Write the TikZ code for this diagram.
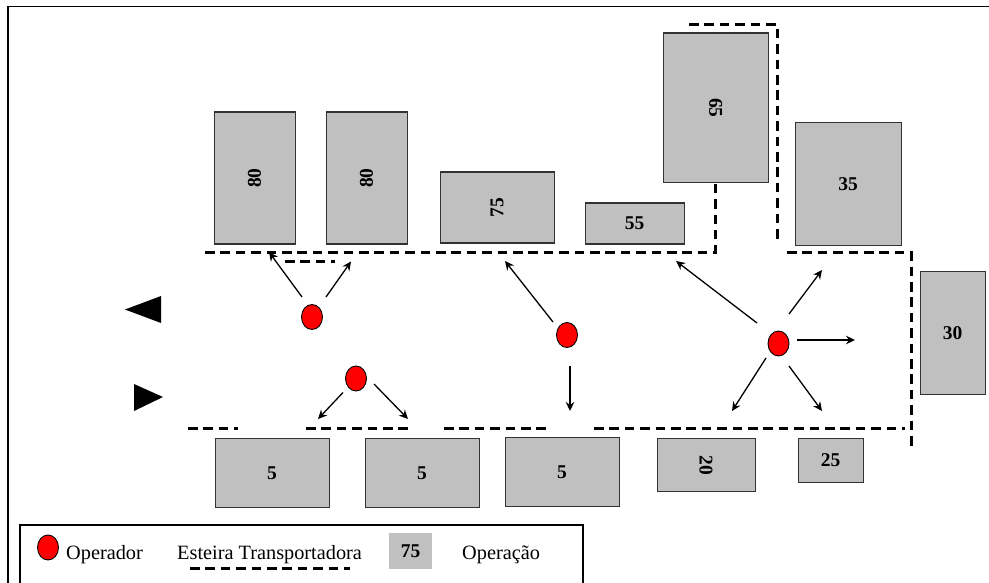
\documentclass[tikz,border=0pt]{standalone}
\usepackage{fontspec}
\setmainfont{Liberation Serif}
\usetikzlibrary{arrows.meta,shapes.geometric}
\definecolor{opgrey}{HTML}{C0C0C0}
\tikzset{
 x=1pt,y=-1pt,
 opbox/.style={draw=black!80,fill=opgrey,line width=1.2pt,font=\bfseries\fontsize{19.5}{22}\selectfont,inner sep=0pt,anchor=north west},
 belt/.style={line width=3pt,dash pattern=on 9.5pt off 5.9pt},
 oper/.style={draw=black,fill=red,ellipse,line width=.9pt,minimum width=21pt,minimum height=25pt,inner sep=0pt},
 flow/.style={-{Stealth[length=9pt,width=8.5pt]},line width=1.3pt},
 legtxt/.style={font=\fontsize{20.3}{22}\selectfont,inner sep=0pt},
 frameline/.style={line width=1.3pt},
}
\newcommand{\opb}[6]{\node[opbox,minimum width=#4pt,minimum height=#5pt] (#1) at (#2,#3) {#6};}
\begin{document}
\begin{tikzpicture}
\useasboundingbox (0,0) rectangle (989,583);
\coordinate (fa) at (8,583); \coordinate (fb) at (8,6.5); \coordinate (fc) at (989,6.5);
\draw[frameline] (fa) -- (fb) -- (fc);
% boxes
\opb{a1}{213.5}{111.5}{81}{132}{\rotatebox{90}{80}}
\opb{a2}{325.5}{111.5}{81}{132}{\rotatebox{90}{80}}
\opb{a3}{439.5}{171.5}{114}{71}{\rotatebox{90}{75}}
\opb{a4}{584.5}{202.5}{99}{41}{55}
\opb{a5}{662.5}{32.5}{105.5}{149.5}{\rotatebox{-90}{65}}
\opb{a6}{794.5}{122}{106}{123}{35}
\opb{a7}{919.5}{271}{65}{123}{30}
\opb{b1}{214.5}{438}{114}{69}{5}
\opb{b2}{364.5}{438}{114}{69}{5}
\opb{b3}{504.5}{436.5}{114}{69.5}{5}
\opb{b4}{656.5}{438}{98}{53}{\rotatebox{-90}{20}}
\opb{b5}{797.5}{438}{65}{44}{25}
% belts
\coordinate (t1) at (205,252.5); \coordinate (t2) at (715.5,252.5); \coordinate (t3) at (715.5,183);
\draw[belt] (t1) -- (t2) -- (t3);
\coordinate (s1) at (285,261.5); \coordinate (s2) at (335,261.5);
\draw[belt] (s1) -- (s2);
\coordinate (u1) at (689,24.5); \coordinate (u2) at (777,24.5); \coordinate (u3) at (777,243);
\draw[belt] (u1) -- (u2) -- (u3);
\coordinate (v1) at (787,252.5); \coordinate (v2) at (911.5,252.5); \coordinate (v3) at (911.5,446);
\draw[belt] (v1) -- (v2) -- (v3);
\coordinate (w1) at (188,428); \coordinate (w2) at (238,428);
\draw[belt] (w1) -- (w2);
\coordinate (w3) at (306,428); \coordinate (w4) at (409,428);
\draw[belt] (w3) -- (w4);
\coordinate (w5) at (444,428); \coordinate (w6) at (547,428);
\draw[belt] (w5) -- (w6);
\coordinate (w7) at (594,428); \coordinate (w8) at (905,428);
\draw[belt] (w7) -- (w8);
% direction triangles
\coordinate (ta) at (125,309.5); \coordinate (tb) at (161,296); \coordinate (tc) at (161,323);
\fill (ta) -- (tb) -- (tc) -- cycle;
\coordinate (td) at (134,384); \coordinate (te) at (163,397); \coordinate (tf) at (134,411);
\fill (td) -- (te) -- (tf) -- cycle;
% operators
\node[oper] (o1) at (312,317) {};
\node[oper] (o2) at (356,378.5) {};
\node[oper] (o3) at (567,335) {};
\node[oper] (o4) at (778.5,343.5) {};
% arrows
\coordinate (e1) at (269,252); \coordinate (e2) at (351,261.5);
\coordinate (e3) at (318,419); \coordinate (e4) at (408,419);
\coordinate (e5) at (505,261); \coordinate (e6) at (570,411);
\coordinate (e7) at (676,261); \coordinate (e8) at (822,270);
\coordinate (e9) at (855,340); \coordinate (e10) at (732,411); \coordinate (e11) at (822,411);
\coordinate (f1) at (302,297); \coordinate (f2) at (326,297);
\coordinate (f3) at (343,392.5); \coordinate (f4) at (374,384);
\coordinate (f5) at (553,322); \coordinate (f6) at (570,366);
\coordinate (f7) at (757,323); \coordinate (f8) at (789,314);
\coordinate (f9) at (797,340); \coordinate (f10) at (766,358); \coordinate (f11) at (789,366);
\draw[flow] (f1) -- (e1);
\draw[flow] (f2) -- (e2);
\draw[flow] (f3) -- (e3);
\draw[flow] (f4) -- (e4);
\draw[flow] (f5) -- (e5);
\draw[flow] (f6) -- (e6);
\draw[flow] (f7) -- (e7);
\draw[flow] (f8) -- (e8);
\draw[flow] (f9) -- (e9);
\draw[flow] (f10) -- (e10);
\draw[flow] (f11) -- (e11);
% legend
\coordinate (la) at (20,583); \coordinate (lb) at (20,525); \coordinate (lc) at (583,525); \coordinate (ld) at (583,583);
\draw[frameline] (la) -- (lb) -- (lc) -- (ld);
\node[oper] (lo) at (48,547.5) {};
\node[legtxt,anchor=base west] (l1) at (66,559) {Operador};
\node[legtxt,anchor=base west] (l2) at (177,559) {Esteira Transportadora};
\coordinate (lm) at (190,568); \coordinate (ln) at (350,568);
\draw[belt] (lm) -- (ln);
\node[draw=none,fill=opgrey,minimum width=43pt,minimum height=36pt,inner sep=0pt,font=\bfseries\fontsize{19.5}{22}\selectfont] (l3) at (410.5,551) {75};
\node[legtxt,anchor=base west] (l4) at (462,559) {Operação};
\end{tikzpicture}
\end{document}
